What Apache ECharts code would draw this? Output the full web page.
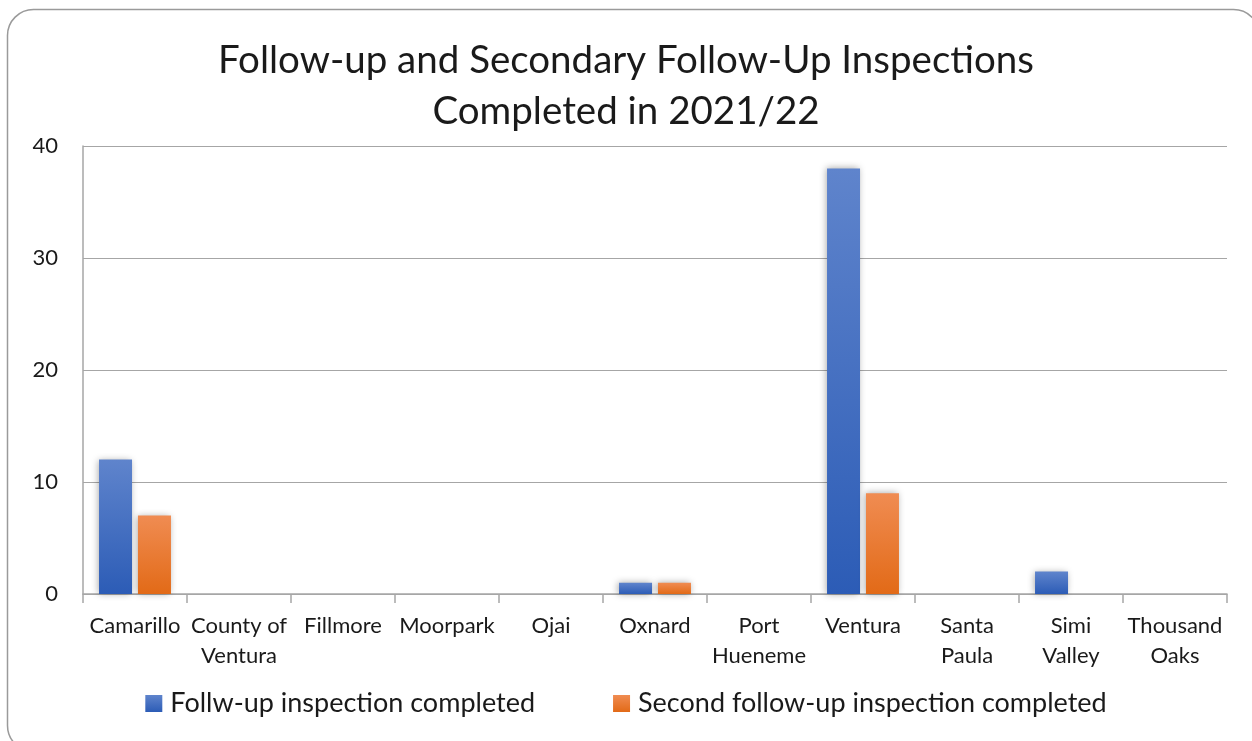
<!DOCTYPE html>
<html>
<head>
<meta charset="utf-8">
<script src="https://cdn.jsdelivr.net/npm/echarts@6/dist/echarts.min.js"></script>
<style>
  html, body { margin: 0; padding: 0; background: #fff; }
  #chart { width: 1252px; height: 741px; }
</style>
</head>
<body>
<div id="chart"></div>
<script>
// data
const cities = ['Camarillo', 'County of\nVentura', 'Fillmore', 'Moorpark', 'Ojai', 'Oxnard',
  'Port\nHueneme', 'Ventura', 'Santa\nPaula', 'Simi\nValley', 'Thousand\nOaks'];
const followUp = [12, 0, 0, 0, 0, 1, 0, 38, 0, 2, 0];
const secondFollowUp = [7, 0, 0, 0, 0, 1, 0, 9, 0, 0, 0];
const seriesNames = ['Follw-up inspection completed', 'Second follow-up inspection completed'];

const font = 'Lato, "Open Sans", sans-serif';

function grad(top, bottom) {
  return new echarts.graphic.LinearGradient(0, 0, 0, 1, [
    { offset: 0, color: top },
    { offset: 1, color: bottom }
  ]);
}

const chart = echarts.init(document.getElementById('chart'));
chart.setOption({
  animation: false,
  backgroundColor: '#fff',
  textStyle: { fontFamily: font },
  graphic: [{
    type: 'rect',
    shape: { x: 7.5, y: 9.5, width: 1252, height: 742, r: 26 },
    style: { fill: 'none', stroke: '#9a9a9a', lineWidth: 1.5 },
    silent: true
  }],
  title: {
    text: 'Follow-up and Secondary Follow-Up Inspections\nCompleted in 2021/22',
    left: 'center',
    top: 30,
    textStyle: { fontFamily: font, fontWeight: 'normal', fontSize: 38.5, lineHeight: 51, color: '#1a1a1a' }
  },
  legend: {
    bottom: 19,
    left: 'center',
    itemWidth: 17,
    itemHeight: 17,
    itemGap: 78,
    icon: 'rect',
    textStyle: { fontFamily: font, fontSize: 27, color: '#1a1a1a', padding: [0, 0, 0, 3] },
    data: seriesNames
  },
  grid: { left: 83, right: 25, top: 146, bottom: 147, containLabel: false },
  xAxis: {
    type: 'category',
    data: cities,
    axisLine: { lineStyle: { color: '#a6a6a6', width: 1.5 } },
    axisTick: { show: true, length: 9, lineStyle: { color: '#a6a6a6', width: 1.5 } },
    axisLabel: { fontFamily: font, fontSize: 22, color: '#1a1a1a', lineHeight: 30, margin: 17, interval: 0 }
  },
  yAxis: {
    type: 'value',
    min: 0,
    max: 40,
    interval: 10,
    axisLine: { show: true, lineStyle: { color: '#a6a6a6', width: 1.5 } },
    axisTick: { show: false },
    splitLine: { lineStyle: { color: '#a6a6a6', width: 1.2 } },
    axisLabel: { fontFamily: font, fontSize: 22, color: '#1a1a1a', margin: 25 }
  },
  series: [
    {
      name: seriesNames[0],
      type: 'bar',
      data: followUp,
      barWidth: 33,
      barGap: '18%',
      itemStyle: {
        color: grad('#5f84cc', '#2c5cb6'),
        shadowColor: 'rgba(0,0,0,0.35)',
        shadowBlur: 7,
        shadowOffsetX: -1
      }
    },
    {
      name: seriesNames[1],
      type: 'bar',
      data: secondFollowUp,
      barWidth: 33,
      itemStyle: {
        color: grad('#f08c52', '#e26a17'),
        shadowColor: 'rgba(0,0,0,0.35)',
        shadowBlur: 7,
        shadowOffsetX: -1
      }
    }
  ]
});
</script>
</body>
</html>
